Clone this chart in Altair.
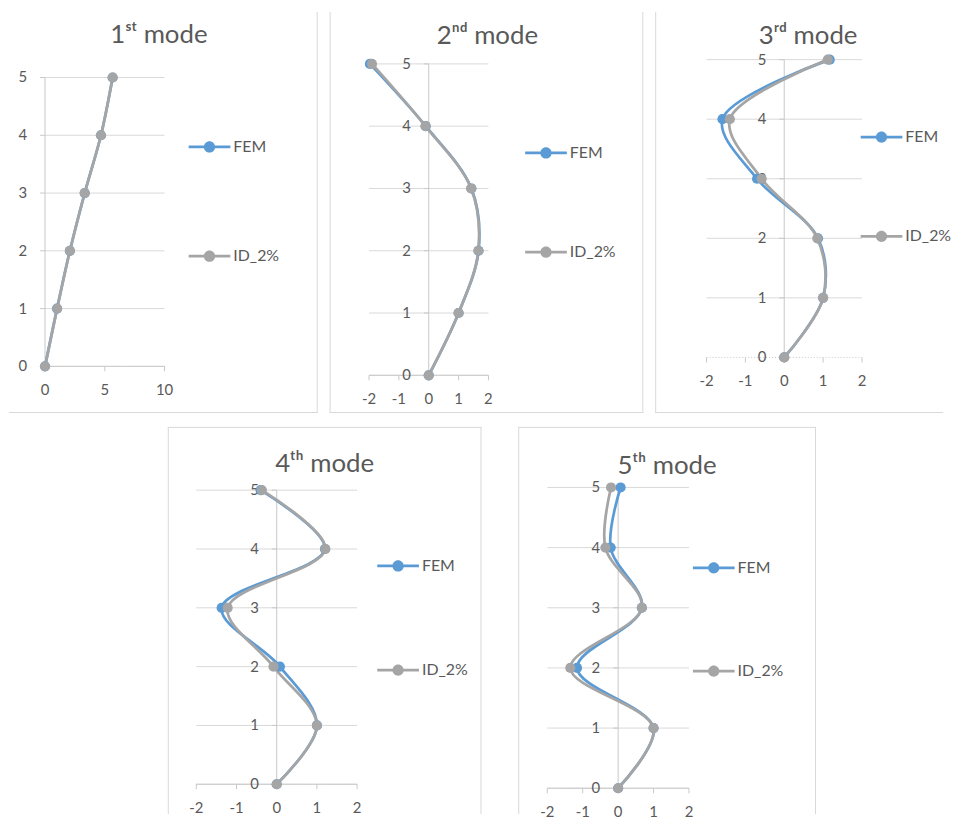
import altair as alt
import pandas as pd

# ---------------- data ----------------
levels = [0, 1, 2, 3, 4, 5]
series_names = ["FEM", "ID_2%"]
series_colors = ["#5B9BD5", "#A5A5A5"]

m1_fem = [0, 1.00, 2.08, 3.32, 4.68, 5.66]
m1_id = [0, 1.02, 2.08, 3.32, 4.68, 5.65]
m2_fem = [0, 1.00, 1.67, 1.43, -0.10, -1.97]
m2_id = [0, 1.00, 1.66, 1.42, -0.11, -1.90]
m3_fem = [0, 1.00, 0.87, -0.70, -1.59, 1.17]
m3_id = [0, 1.00, 0.85, -0.58, -1.40, 1.12]
m4_fem = [0, 1.00, 0.08, -1.37, 1.20, -0.40]
m4_id = [0, 1.00, -0.08, -1.22, 1.21, -0.37]
m5_fem = [0, 1.00, -1.16, 0.67, -0.21, 0.07]
m5_id = [0, 1.00, -1.35, 0.67, -0.36, -0.20]

titles = ["1\u02e2\u1d57 mode", "2\u207f\u1d48 mode", "3\u02b3\u1d48 mode",
          "4\u1d57\u02b0 mode", "5\u1d57\u02b0 mode"]
x_ticks_m1 = [0, 5, 10]
x_ticks_other = [-2, -1, 0, 1, 2]

# ---------------- style ----------------
TXT = "#595959"
GRID = "#D9D9D9"
AXIS = "#C8C8C8"
FRAME = "#D9D9D9"
FONT = "Lato, 'Noto Sans', sans-serif"
LEG_PATH = ("M-1,-0.066 H1 V0.066 H-1 Z "
            "M-0.27,0 A0.27,0.27 0 1,1 0.27,0 A0.27,0.27 0 1,1 -0.27,0 Z")

# layout of each panel (style only)
cfg = [
    dict(fem=m1_fem, idv=m1_id, title=titles[0], ticks=x_ticks_m1, vw=311, vh=404,
         xr=[36.3, 156.7], yr=[357, 66], lx=181, ly=115, rp=81, dash=[1, 0],
         tb=31, tx=151, frame=["r", "b"]),
    dict(fem=m2_fem, idv=m2_id, title=titles[1], ticks=x_ticks_other, vw=316, vh=404,
         xr=[39.7, 160], yr=[366, 52.3], lx=197, ly=121, rp=71, dash=[1, 0],
         tb=32.5, tx=159, frame=["l", "r", "b"]),
    dict(fem=m3_fem, idv=m3_id, title=titles[2], ticks=x_ticks_other, vw=290, vh=404,
         xr=[51.7, 208.3], yr=[348, 48], lx=207, ly=105, rp=71, dash=[1, 2],
         tb=32.5, tx=154, frame=["l", "b"], nozero=True),
    dict(fem=m4_fem, idv=m4_id, title=titles[3], ticks=x_ticks_other, vw=316, vh=390,
         xr=[28.7, 190.7], yr=[360, 63.7], lx=211, ly=119, rp=76, dash=[1, 0],
         tb=45, tx=158, frame=["l", "r", "t"]),
    dict(fem=m5_fem, idv=m5_id, title=titles[4], ticks=x_ticks_other, vw=300, vh=390,
         xr=[29.3, 172], yr=[364, 61], lx=176, ly=121, rp=75, dash=[1, 0],
         tb=47.5, tx=150, frame=["l", "r", "t"]),
]


def panel(c):
    xdom = [c["ticks"][0], c["ticks"][-1]]
    xs = alt.Scale(domain=xdom, range=c["xr"], nice=False, zero=False)
    ys = alt.Scale(domain=[0, 5], range=c["yr"], nice=False, zero=False)
    cs = alt.Scale(domain=series_names, range=series_colors)

    grid_levels = [l for l in levels if not (c.get("nozero") and l == 0)]
    grid_df = pd.DataFrame({"lv": grid_levels, "x0": xdom[0], "x1": xdom[1]})
    zero_df = pd.DataFrame({"lv": [0], "x0": [xdom[0]], "x1": [xdom[1]]})
    vaxis_df = pd.DataFrame({"xv": [0], "y0": [0], "y1": [5]})
    xt_df = pd.DataFrame({"t": c["ticks"], "z": 0, "lab": [str(t) for t in c["ticks"]]})
    yt_df = pd.DataFrame({"lv": levels, "z": 0, "lab": [str(l) for l in levels]})

    rows = []
    for name, vals in zip(series_names, [c["fem"], c["idv"]]):
        for lv, v in zip(levels, vals):
            rows.append({"series": name, "level": lv, "disp": v})
    d = pd.DataFrame(rows)

    grid = alt.Chart(grid_df).mark_rule(color=GRID, strokeWidth=1).encode(
        x=alt.X("x0:Q", scale=xs, axis=None), x2="x1:Q",
        y=alt.Y("lv:Q", scale=ys, axis=None))
    zero = alt.Chart(zero_df).mark_rule(color=AXIS, strokeWidth=1,
                                        strokeDash=c["dash"]).encode(
        x=alt.X("x0:Q", scale=xs, axis=None), x2="x1:Q",
        y=alt.Y("lv:Q", scale=ys, axis=None))
    vaxis = alt.Chart(vaxis_df).mark_rule(color=AXIS, strokeWidth=1).encode(
        x=alt.X("xv:Q", scale=xs, axis=None),
        y=alt.Y("y0:Q", scale=ys, axis=None), y2="y1:Q")
    xticks = alt.Chart(xt_df).mark_tick(color=AXIS, orient="vertical", size=5,
                                        thickness=1, yOffset=2.5, opacity=1).encode(
        x=alt.X("t:Q", scale=xs, axis=None), y=alt.Y("z:Q", scale=ys, axis=None))
    yticks = alt.Chart(yt_df).mark_tick(color=AXIS, orient="horizontal", size=5,
                                        thickness=1, xOffset=-2.5, opacity=1).encode(
        x=alt.X("z:Q", scale=xs, axis=None), y=alt.Y("lv:Q", scale=ys, axis=None))
    xlab = alt.Chart(xt_df).mark_text(font=FONT, fontSize=15, color=TXT, dy=24,
                                      baseline="middle", align="center").encode(
        x=alt.X("t:Q", scale=xs, axis=None), y=alt.Y("z:Q", scale=ys, axis=None),
        text="lab:N")
    ylab = alt.Chart(yt_df).mark_text(font=FONT, fontSize=15, color=TXT, dx=-18,
                                      baseline="middle", align="right").encode(
        x=alt.X("z:Q", scale=xs, axis=None), y=alt.Y("lv:Q", scale=ys, axis=None),
        text="lab:N")

    lines = alt.Chart(d).mark_line(interpolate="catmull-rom", strokeWidth=2.75).encode(
        x=alt.X("disp:Q", scale=xs, axis=None),
        y=alt.Y("level:Q", scale=ys, axis=None),
        order=alt.Order("level:Q"),
        detail="series:N",
        stroke=alt.condition(f"datum.series == '{series_names[0]}'",
                             alt.value(series_colors[0]), alt.value(series_colors[1])))
    pts = alt.Chart(d).mark_circle(size=105, opacity=1).encode(
        x=alt.X("disp:Q", scale=xs, axis=None),
        y=alt.Y("level:Q", scale=ys, axis=None),
        color=alt.Color("series:N", scale=cs, legend=alt.Legend(
            orient="none", legendX=c["lx"], legendY=c["ly"], title=None,
            symbolType=LEG_PATH, symbolSize=1764, symbolStrokeWidth=0,
            symbolOpacity=1, labelFont=FONT, labelFontSize=16, labelColor=TXT,
            labelOffset=3, rowPadding=c["rp"], padding=0)))

    title = alt.Chart(pd.DataFrame({"t": [c["title"]]})).mark_text(
        font=FONT, fontSize=26, color=TXT, align="center", baseline="alphabetic").encode(
        text="t:N", x=alt.value(c["tx"]), y=alt.value(c["tb"]))

    frames = []
    fr_df = pd.DataFrame({"k": [0]})
    fw, fh = c["vw"], c["vh"]
    for side in c["frame"]:
        base = alt.Chart(fr_df).mark_rule(color=FRAME, strokeWidth=1)
        if side == "l":
            frames.append(base.encode(x=alt.value(0.5), y=alt.value(0), y2=alt.value(fh)))
        elif side == "r":
            frames.append(base.encode(x=alt.value(fw - 0.5), y=alt.value(0), y2=alt.value(fh)))
        elif side == "b":
            frames.append(base.encode(x=alt.value(0), x2=alt.value(fw), y=alt.value(fh - 0.5)))
        elif side == "t":
            frames.append(base.encode(x=alt.value(0), x2=alt.value(fw), y=alt.value(0.5)))

    return alt.layer(*frames, grid, zero, vaxis, xticks, yticks, xlab, ylab, lines, pts,
                     title).properties(width=c["vw"], height=c["vh"])


p = [panel(c) for c in cfg]
spacer = alt.Chart(pd.DataFrame({"s": [0]})).mark_rule(opacity=0).encode(
    x=alt.value(0), x2=alt.value(124), y=alt.value(5)).properties(width=124, height=10)

top = alt.hconcat(p[0], p[1], p[2], spacing=10).resolve_scale(
    color="independent").resolve_legend(color="independent")
bottom = alt.hconcat(spacer, p[3], p[4], spacing=35).resolve_scale(
    color="independent").resolve_legend(color="independent")
chart = alt.vconcat(top, bottom, spacing=12).resolve_scale(
    color="independent").resolve_legend(color="independent").properties(
    padding=0, background="white").configure_view(stroke=None)

chart.save("out.html", embed_options={"renderer": "svg", "actions": False})
